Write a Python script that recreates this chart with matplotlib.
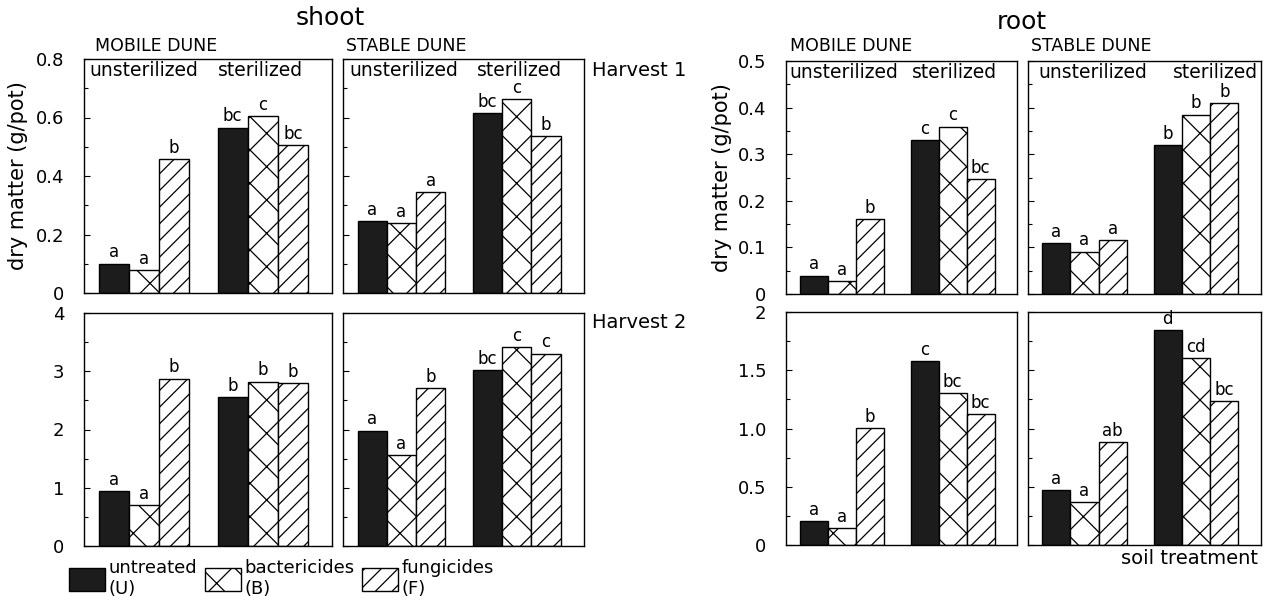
import numpy as np
import matplotlib
matplotlib.use("Agg")
import matplotlib.pyplot as plt
from matplotlib.patches import Patch

# values: U, B, F (unsterilized) then U, B, F (sterilized)
shoot_h1_mobile = [0.100, 0.078, 0.458, 0.565, 0.605, 0.505]
shoot_h1_stable = [0.245, 0.238, 0.344, 0.614, 0.662, 0.536]
shoot_h2_mobile = [0.94, 0.70, 2.87, 2.56, 2.82, 2.79]
shoot_h2_stable = [1.98, 1.56, 2.71, 3.02, 3.41, 3.30]
root_h1_mobile = [0.039, 0.027, 0.161, 0.330, 0.359, 0.247]
root_h1_stable = [0.109, 0.091, 0.115, 0.319, 0.385, 0.410]
root_h2_mobile = [0.207, 0.143, 1.004, 1.578, 1.306, 1.125]
root_h2_stable = [0.473, 0.367, 0.884, 1.842, 1.601, 1.234]

shoot_h1_mobile_sig = ['a', 'a', 'b', 'bc', 'c', 'bc']
shoot_h1_stable_sig = ['a', 'a', 'a', 'bc', 'c', 'b']
shoot_h2_mobile_sig = ['a', 'a', 'b', 'b', 'b', 'b']
shoot_h2_stable_sig = ['a', 'a', 'b', 'bc', 'c', 'c']
root_h1_mobile_sig = ['a', 'a', 'b', 'c', 'c', 'bc']
root_h1_stable_sig = ['a', 'a', 'a', 'b', 'b', 'b']
root_h2_mobile_sig = ['a', 'a', 'b', 'c', 'bc', 'bc']
root_h2_stable_sig = ['a', 'a', 'ab', 'd', 'cd', 'bc']

treatments = ['untreated\n(U)', 'bactericides\n(B)', 'fungicides\n(F)']
soil_states = ['unsterilized', 'sterilized']
dunes = ['MOBILE DUNE', 'STABLE DUNE']

shoot_h1_ticks = [0, 0.2, 0.4, 0.6, 0.8]
shoot_h1_labels = ['0', '0.2', '0.4', '0.6', '0.8']
shoot_h2_ticks = [0, 1, 2, 3, 4]
shoot_h2_labels = ['0', '1', '2', '3', '4']
root_h1_ticks = [0, 0.1, 0.2, 0.3, 0.4, 0.5]
root_h1_labels = ['0', '0.1', '0.2', '0.3', '0.4', '0.5']
root_h2_ticks = [0, 0.5, 1.0, 1.5, 2.0]
root_h2_labels = ['0', '0.5', '1.0', '1.5', '2']

W, H = 1264, 605
plt.rcParams['font.family'] = 'DejaVu Sans'
plt.rcParams['hatch.linewidth'] = 0.9
fig = plt.figure(figsize=(W / 100, H / 100), dpi=100)

faces = ['#1c1c1c', 'white', 'white']
hatches = [None, 'x', '//']
xpos = [0, 1, 2, 3.95, 4.95, 5.95]


def px_axes(x0, y0, x1, y1):
    return fig.add_axes([x0 / W, 1 - y1 / H, (x1 - x0) / W, (y1 - y0) / H])


def panel(ax, vals, sig, ymax, ticks, labels, minor, show_labels, top_text=None):
    for i, v in enumerate(vals):
        ax.bar(xpos[i], v, width=1.0, color=faces[i % 3], edgecolor='black',
               hatch=hatches[i % 3], linewidth=1.0)
        ax.text(xpos[i], v + ymax * 0.01, sig[i], ha='center', va='bottom',
                fontsize=12)
    ax.set_xlim(-1, 7.25)
    ax.set_ylim(0, ymax)
    ax.set_xticks([])
    ax.set_yticks(ticks)
    ax.set_yticks(minor, minor=True)
    ax.tick_params(axis='y', which='both', direction='in', length=4, width=0.8)
    ax.tick_params(axis='y', which='minor', length=3)
    if show_labels:
        ax.set_yticklabels(labels, fontsize=13)
        ax.tick_params(axis='y', pad=14)
    else:
        ax.set_yticklabels([])
    for s in ax.spines.values():
        s.set_linewidth(1.0)
    if top_text:
        ax.text(top_text[0], 0.99, soil_states[0], transform=ax.transAxes,
                ha='left', va='top', fontsize=13.5)
        ax.text(top_text[1], 0.99, soil_states[1], transform=ax.transAxes,
                ha='left', va='top', fontsize=13.5)


# shoot
a1 = px_axes(84, 59, 332, 293)
a2 = px_axes(343, 59, 584, 293)
a3 = px_axes(84, 313, 332, 546)
a4 = px_axes(343, 313, 584, 546)
panel(a1, shoot_h1_mobile, shoot_h1_mobile_sig, 0.8, shoot_h1_ticks, shoot_h1_labels,
      np.arange(0, 0.81, 0.1), True, (0.02, 0.54))
panel(a2, shoot_h1_stable, shoot_h1_stable_sig, 0.8, shoot_h1_ticks, shoot_h1_labels,
      np.arange(0, 0.81, 0.1), False, (0.025, 0.555))
panel(a3, shoot_h2_mobile, shoot_h2_mobile_sig, 4, shoot_h2_ticks, shoot_h2_labels,
      np.arange(0, 4.1, 0.5), True)
panel(a4, shoot_h2_stable, shoot_h2_stable_sig, 4, shoot_h2_ticks, shoot_h2_labels,
      np.arange(0, 4.1, 0.5), False)
a1.set_ylabel('dry matter (g/pot)', fontsize=15, labelpad=6)

# root
b1 = px_axes(786, 61, 1017, 294)
b2 = px_axes(1028, 61, 1261, 294)
b3 = px_axes(786, 312, 1017, 545)
b4 = px_axes(1028, 312, 1261, 545)
panel(b1, root_h1_mobile, root_h1_mobile_sig, 0.5, root_h1_ticks, root_h1_labels,
      np.arange(0, 0.51, 0.05), True, (0.015, 0.545))
panel(b2, root_h1_stable, root_h1_stable_sig, 0.5, root_h1_ticks, root_h1_labels,
      np.arange(0, 0.51, 0.05), False, (0.045, 0.62))
panel(b3, root_h2_mobile, root_h2_mobile_sig, 2, root_h2_ticks, root_h2_labels,
      np.arange(0, 2.01, 0.25), True)
panel(b4, root_h2_stable, root_h2_stable_sig, 2, root_h2_ticks, root_h2_labels,
      np.arange(0, 2.01, 0.25), False)
b1.set_ylabel('dry matter (g/pot)', fontsize=15, labelpad=4)

fig.text(330 / W, 1 - 18 / H, 'shoot', ha='center', va='center', fontsize=18)
fig.text(1022 / W, 1 - 22 / H, 'root', ha='center', va='center', fontsize=18)
for x, t in [(95, dunes[0]), (346, dunes[1]), (790, dunes[0]), (1031, dunes[1])]:
    fig.text(x / W, 1 - 46 / H, t, ha='left', va='center', fontsize=12.5)
fig.text(592 / W, 1 - 70 / H, 'Harvest 1', ha='left', va='center', fontsize=14)
fig.text(592 / W, 1 - 323 / H, 'Harvest 2', ha='left', va='center', fontsize=14)
fig.text(1258 / W, 1 - 559 / H, 'soil treatment', ha='right', va='center', fontsize=14)

handles = [Patch(facecolor=faces[i], edgecolor='black', hatch=hatches[i], linewidth=1.0)
           for i in range(3)]
fig.legend(handles, treatments, loc='upper left', bbox_to_anchor=(60 / W, 1 - 550 / H),
           ncol=3, frameon=False, fontsize=13, handlelength=2.0, handleheight=1.6,
           handletextpad=0.2, columnspacing=0.4, borderpad=0, labelspacing=0)

fig.savefig('out.png', dpi=100)
